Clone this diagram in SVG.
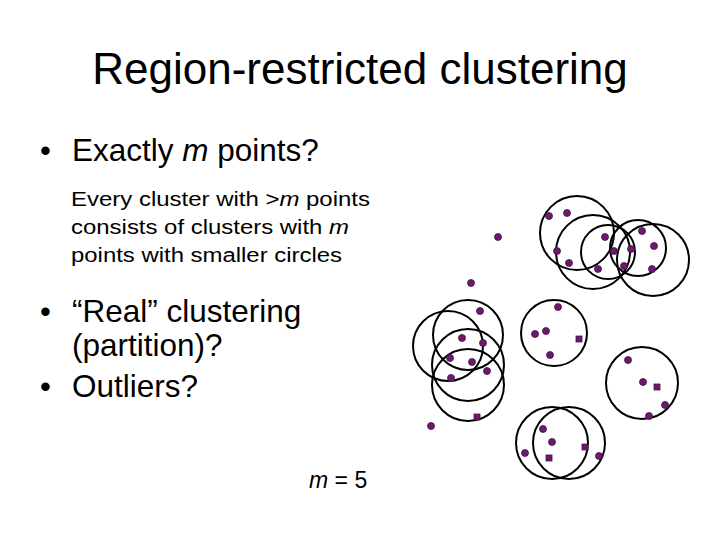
<svg xmlns="http://www.w3.org/2000/svg" width="720" height="540" viewBox="0 0 720 540">
<style>
text{font-family:"Liberation Sans",Arial,sans-serif;fill:#000}
.c{fill:none;stroke:#000;stroke-width:2}
.p{fill:#6a1b6a;stroke:#4a104a;stroke-width:0.8}
</style>
<rect width="720" height="540" fill="#fff"/>
<text x="360" y="84" font-size="44" text-anchor="middle">Region-restricted clustering</text>
<text x="40" y="161" font-size="31">•</text>
<text x="72" y="161" font-size="31.5">Exactly <tspan font-style="italic">m</tspan> points?</text>
<text x="71" y="206" font-size="20" textLength="299" lengthAdjust="spacingAndGlyphs">Every cluster with &gt;<tspan font-style="italic">m</tspan> points</text>
<text x="71" y="234" font-size="20" textLength="278" lengthAdjust="spacingAndGlyphs">consists of clusters with <tspan font-style="italic">m</tspan></text>
<text x="71" y="262" font-size="20" textLength="271" lengthAdjust="spacingAndGlyphs">points with smaller circles</text>
<text x="40" y="322" font-size="31">•</text>
<text x="72" y="322" font-size="31.5">“Real” clustering</text>
<text x="72" y="356" font-size="31.5">(partition)?</text>
<text x="40" y="397" font-size="31">•</text>
<text x="72" y="397" font-size="31.5">Outliers?</text>
<text x="309" y="488" font-size="23"><tspan font-style="italic">m</tspan> = 5</text>
<g id="circles">
<circle class="c" cx="577" cy="233" r="37"/>
<circle class="c" cx="593" cy="252" r="37"/>
<circle class="c" cx="608" cy="252" r="27"/>
<circle class="c" cx="638" cy="248" r="28"/>
<circle class="c" cx="653" cy="260" r="36"/>
<circle class="c" cx="448" cy="346" r="35"/>
<circle class="c" cx="468" cy="335" r="35"/>
<circle class="c" cx="468" cy="365" r="36"/>
<circle class="c" cx="468" cy="385" r="36"/>
<circle class="c" cx="554" cy="333" r="33"/>
<circle class="c" cx="642" cy="383" r="36"/>
<circle class="c" cx="552" cy="443" r="36"/>
<circle class="c" cx="569" cy="443" r="36"/>
</g>
<g id="points">
<circle class="p" cx="549" cy="216" r="3.5"/><circle class="p" cx="567" cy="213" r="3.5"/><circle class="p" cx="498" cy="237" r="3.5"/><circle class="p" cx="605" cy="237" r="3.5"/><circle class="p" cx="642" cy="231" r="3.5"/><circle class="p" cx="557" cy="251" r="3.5"/><circle class="p" cx="614" cy="251" r="3.5"/><circle class="p" cx="631" cy="249" r="3.5"/><circle class="p" cx="654" cy="246" r="3.5"/><circle class="p" cx="569" cy="263" r="3.5"/><circle class="p" cx="598" cy="269" r="3.5"/><circle class="p" cx="624" cy="266" r="3.5"/><circle class="p" cx="652" cy="269" r="3.5"/>
<circle class="p" cx="471" cy="283" r="3.5"/><circle class="p" cx="480" cy="311" r="3.5"/><circle class="p" cx="462" cy="338" r="3.5"/><circle class="p" cx="483" cy="343" r="3.5"/><circle class="p" cx="450" cy="358" r="3.5"/><circle class="p" cx="472" cy="362" r="3.5"/><circle class="p" cx="487" cy="371" r="3.5"/><circle class="p" cx="451" cy="378" r="3.5"/><rect class="p" x="474" y="414" width="6" height="6"/><circle class="p" cx="431" cy="426" r="3.5"/>
<circle class="p" cx="558" cy="307" r="3.5"/><circle class="p" cx="546" cy="331" r="3.5"/><circle class="p" cx="535" cy="334" r="3.5"/><rect class="p" x="576" y="336" width="6" height="6"/><circle class="p" cx="550" cy="355" r="3.5"/>
<circle class="p" cx="628" cy="360" r="3.5"/><circle class="p" cx="643" cy="382" r="3.5"/><rect class="p" x="654" y="384" width="6" height="6"/><circle class="p" cx="665" cy="405" r="3.5"/><circle class="p" cx="649" cy="416" r="3.5"/>
<circle class="p" cx="543" cy="429" r="3.5"/><circle class="p" cx="552" cy="442" r="3.5"/><rect class="p" x="582" y="444" width="6" height="6"/><circle class="p" cx="525" cy="453" r="3.5"/><rect class="p" x="546" y="455" width="6" height="6"/><circle class="p" cx="599" cy="456" r="3.5"/>
</g>
</svg>
